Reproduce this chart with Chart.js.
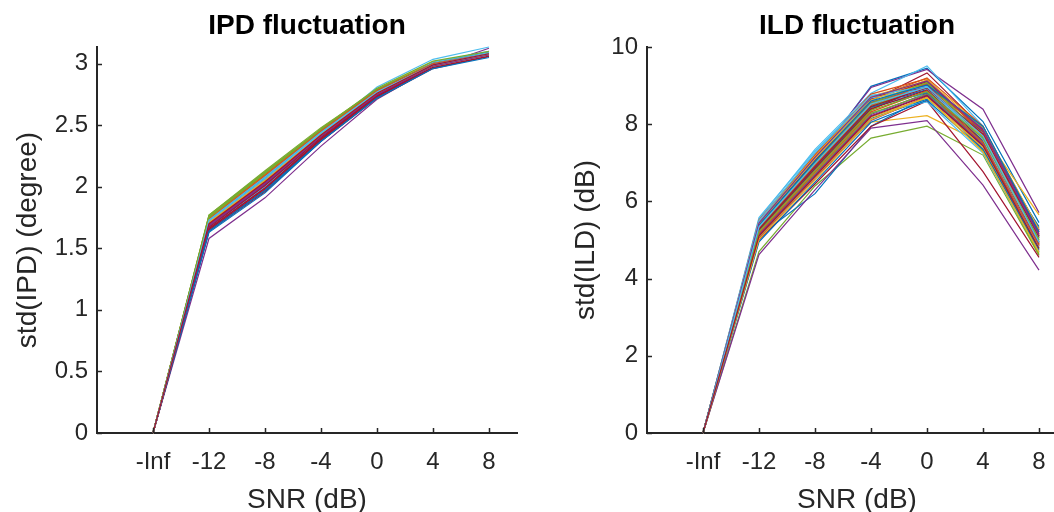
<!DOCTYPE html>
<html>
<head>
<meta charset="utf-8">
<script src="https://cdn.jsdelivr.net/npm/chart.js@4/dist/chart.umd.min.js"></script>
<style>
  html, body { margin: 0; padding: 0; background: #fff; overflow: hidden; width: 1054px; height: 512px; }
  #ipd { position: absolute; left: 0; top: 0; }
  #ild { position: absolute; left: 540px; top: 0; }
</style>
</head>
<body>
<canvas id="ipd" width="527" height="512"></canvas>
<canvas id="ild" width="540" height="512"></canvas>
<script>
// SNR conditions; the noise-free condition (-Inf) sits one step left of -12 dB
const snrPositions = [-16, -12, -8, -4, 0, 4, 8];
const snrLabels = ['-Inf', '-12', '-8', '-4', '0', '4', '8'];
const ipdTicks = [0, 0.5, 1, 1.5, 2, 2.5, 3];
const ildTicks = [0, 2, 4, 6, 8, 10];
const lineColors = ['#0072BD', '#D95319', '#EDB120', '#7E2F8E', '#77AC30', '#4DBEEE', '#A2142F'];

// std(IPD) in degrees, one row per source position, columns follow snrPositions
const ipdStd = [
  [0, 1.70, 2.04, 2.42, 2.76, 2.99, 3.07],
  [0, 1.74, 2.10, 2.46, 2.79, 3.01, 3.08],
  [0, 1.72, 2.07, 2.44, 2.77, 3.00, 3.08],
  [0, 1.58, 1.91, 2.33, 2.71, 2.97, 3.125],
  [0, 1.77, 2.13, 2.48, 2.79, 3.00, 3.08],
  [0, 1.69, 2.03, 2.43, 2.81, 3.035, 3.135],
  [0, 1.66, 1.99, 2.39, 2.74, 2.97, 3.06],
  [0, 1.65, 1.97, 2.38, 2.73, 2.98, 3.07],
  [0, 1.71, 2.06, 2.44, 2.77, 2.99, 3.08],
  [0, 1.75, 2.10, 2.45, 2.78, 3.00, 3.09],
  [0, 1.68, 2.02, 2.41, 2.75, 2.98, 3.07],
  [0, 1.73, 2.08, 2.45, 2.78, 3.00, 3.09],
  [0, 1.67, 2.01, 2.40, 2.75, 2.99, 3.08],
  [0, 1.64, 1.96, 2.37, 2.72, 2.96, 3.06],
  [0, 1.63, 1.95, 2.37, 2.73, 2.97, 3.07],
  [0, 1.72, 2.06, 2.43, 2.76, 2.99, 3.08],
  [0, 1.76, 2.11, 2.46, 2.78, 3.00, 3.09],
  [0, 1.70, 2.05, 2.43, 2.77, 2.99, 3.08],
  [0, 1.74, 2.09, 2.46, 2.79, 3.01, 3.09],
  [0, 1.69, 2.03, 2.41, 2.76, 2.99, 3.08],
  [0, 1.66, 2.00, 2.39, 2.74, 2.97, 3.06],
  [0, 1.71, 2.05, 2.42, 2.76, 2.98, 3.07],
  [0, 1.73, 2.07, 2.44, 2.77, 2.99, 3.08],
  [0, 1.75, 2.11, 2.47, 2.79, 3.01, 3.09],
  [0, 1.68, 2.01, 2.40, 2.75, 2.98, 3.07],
  [0, 1.76, 2.12, 2.47, 2.79, 3.00, 3.09],
  [0, 1.67, 2.00, 2.40, 2.76, 3.01, 3.10],
  [0, 1.65, 1.98, 2.38, 2.73, 2.97, 3.06],
  [0, 1.72, 2.07, 2.44, 2.78, 3.00, 3.08],
  [0, 1.70, 2.04, 2.42, 2.76, 2.99, 3.07],
  [0, 1.74, 2.09, 2.45, 2.78, 2.99, 3.08],
  [0, 1.69, 2.03, 2.42, 2.76, 2.98, 3.07],
  [0, 1.77, 2.12, 2.47, 2.79, 3.00, 3.08],
  [0, 1.71, 2.06, 2.43, 2.77, 3.00, 3.09],
  [0, 1.66, 1.99, 2.39, 2.74, 2.97, 3.06],
  [0, 1.73, 2.08, 2.45, 2.78, 3.00, 3.09],
  [0, 1.75, 2.10, 2.46, 2.78, 2.99, 3.08],
  [0, 1.70, 2.05, 2.43, 2.76, 2.98, 3.07],
  [0, 1.68, 2.02, 2.41, 2.75, 2.98, 3.07],
  [0, 1.76, 2.11, 2.46, 2.78, 3.00, 3.08],
  [0, 1.72, 2.07, 2.43, 2.77, 3.00, 3.09],
  [0, 1.67, 2.01, 2.40, 2.75, 2.98, 3.07],
  [0, 1.64, 1.97, 2.37, 2.72, 2.96, 3.05],
  [0, 1.74, 2.09, 2.45, 2.78, 3.00, 3.08],
  [0, 1.71, 2.05, 2.42, 2.76, 2.98, 3.07],
  [0, 1.69, 2.03, 2.41, 2.75, 2.98, 3.07],
  [0, 1.75, 2.11, 2.47, 2.80, 3.02, 3.10],
  [0, 1.73, 2.08, 2.44, 2.77, 2.99, 3.08],
  [0, 1.70, 2.04, 2.42, 2.76, 2.99, 3.08]
];

// std(ILD) in dB, same layout
const ildStd = [
  [0, 5.45, 7.05, 8.98, 9.45, 8.07, 5.45],
  [0, 5.30, 6.95, 8.55, 9.10, 7.85, 5.20],
  [0, 5.25, 6.85, 8.05, 8.22, 7.50, 5.05],
  [0, 5.40, 7.10, 8.95, 9.42, 8.39, 5.71],
  [0, 4.70, 6.40, 7.64, 7.95, 7.20, 4.60],
  [0, 5.55, 7.35, 8.80, 9.51, 7.95, 5.10],
  [0, 5.35, 7.00, 8.60, 9.33, 7.90, 5.25],
  [0, 5.10, 6.20, 7.95, 8.70, 7.70, 4.95],
  [0, 5.50, 7.20, 8.70, 9.05, 7.60, 4.90],
  [0, 5.15, 6.75, 8.35, 9.15, 7.75, 5.65],
  [0, 4.62, 6.30, 7.90, 8.09, 6.42, 4.22],
  [0, 5.25, 6.90, 8.50, 9.00, 7.65, 4.80],
  [0, 5.58, 7.30, 8.75, 8.85, 7.40, 4.85],
  [0, 5.00, 6.45, 7.94, 8.60, 6.77, 4.55],
  [0, 5.32, 6.98, 8.45, 8.90, 7.80, 5.30],
  [0, 5.45, 7.15, 8.65, 9.20, 7.95, 5.15],
  [0, 5.38, 7.02, 8.58, 9.08, 7.55, 4.75],
  [0, 5.18, 6.70, 8.25, 8.80, 7.35, 4.70],
  [0, 5.28, 6.88, 8.48, 8.95, 7.30, 4.62],
  [0, 5.42, 7.08, 8.62, 8.75, 7.50, 5.00],
  [0, 5.22, 6.82, 8.38, 9.02, 7.85, 5.20],
  [0, 5.12, 6.65, 8.15, 8.65, 7.60, 5.10],
  [0, 5.36, 7.00, 8.52, 8.98, 7.70, 4.95],
  [0, 5.48, 7.18, 8.72, 9.12, 7.65, 4.90],
  [0, 5.05, 6.60, 8.10, 8.72, 7.45, 4.85],
  [0, 5.30, 6.92, 8.42, 9.05, 7.90, 5.05],
  [0, 5.20, 6.78, 8.30, 8.58, 7.25, 4.70],
  [0, 5.40, 7.06, 8.66, 9.10, 7.80, 5.15],
  [0, 5.26, 6.86, 8.44, 8.82, 7.55, 5.35],
  [0, 5.52, 7.22, 8.78, 9.18, 7.72, 5.00],
  [0, 5.08, 6.62, 8.18, 8.68, 7.40, 4.80],
  [0, 5.34, 6.96, 8.56, 9.00, 7.88, 5.25],
  [0, 5.16, 6.72, 8.28, 8.78, 7.50, 4.65],
  [0, 5.46, 7.12, 8.68, 8.92, 7.62, 5.05],
  [0, 5.24, 6.84, 8.40, 8.88, 7.58, 4.88],
  [0, 4.95, 6.50, 8.05, 8.62, 7.35, 4.75],
  [0, 5.32, 6.94, 8.50, 9.05, 7.82, 5.10],
  [0, 5.42, 7.10, 8.62, 9.15, 7.92, 5.28],
  [0, 5.14, 6.68, 8.22, 8.76, 7.48, 4.92],
  [0, 5.36, 7.00, 8.54, 9.08, 7.68, 4.98],
  [0, 5.50, 7.26, 8.74, 8.98, 7.60, 4.82],
  [0, 5.28, 6.90, 8.46, 8.94, 7.74, 5.08],
  [0, 5.38, 7.04, 8.60, 9.02, 7.94, 5.20],
  [0, 5.18, 6.76, 8.32, 8.86, 7.52, 4.86],
  [0, 5.02, 6.55, 8.12, 8.70, 7.28, 4.68],
  [0, 5.44, 7.14, 8.70, 9.12, 7.84, 5.12],
  [0, 5.22, 6.80, 8.36, 8.84, 7.64, 5.02],
  [0, 5.34, 6.98, 8.52, 8.96, 7.70, 4.94],
  [0, 5.10, 6.64, 8.20, 8.74, 7.44, 4.78]
];

const fontFamily = '"Liberation Sans", Arial, Helvetica, sans-serif';
const axisColor = '#262626';

// MATLAB-style tick marks pointing into the axes
const inwardTicks = {
  id: 'inwardTicks',
  afterDraw(chart) {
    const { ctx, chartArea, scales } = chart;
    ctx.save();
    ctx.strokeStyle = axisColor;
    ctx.lineWidth = 1.5;
    ctx.beginPath();
    scales.x.ticks.forEach(t => {
      const px = Math.round(scales.x.getPixelForValue(t.value)) + 0.5;
      ctx.moveTo(px, chartArea.bottom);
      ctx.lineTo(px, chartArea.bottom - 5);
    });
    scales.y.ticks.forEach(t => {
      const py = Math.round(scales.y.getPixelForValue(t.value)) + 0.5;
      ctx.moveTo(chartArea.left, py);
      ctx.lineTo(chartArea.left + 5, py);
    });
    ctx.stroke();
    ctx.restore();
  }
};

function makeDatasets(rows) {
  return rows.map((row, i) => ({
    data: row.map((y, j) => ({ x: snrPositions[j], y })),
    borderColor: lineColors[i % lineColors.length],
    backgroundColor: lineColors[i % lineColors.length],
    borderWidth: 1.2,
    pointRadius: 0,
    fill: false,
    tension: 0,
    clip: false,
    order: rows.length - i
  }));
}

function makeChart(id, rows, yTicks, yMax, titleText, yTitle, yAxisWidth, yTitlePad, rightPad) {
  return new Chart(document.getElementById(id), {
    type: 'line',
    data: { datasets: makeDatasets(rows) },
    plugins: [inwardTicks],
    options: {
      responsive: false,
      animation: false,
      devicePixelRatio: 1,
      layout: { padding: { left: 0, right: rightPad, top: 0, bottom: 0 } },
      plugins: {
        legend: { display: false },
        tooltip: { enabled: false },
        title: {
          display: true,
          text: titleText,
          fullSize: false,
          color: '#000',
          font: { family: fontFamily, size: 28, weight: 'bold', lineHeight: 1.2 },
          padding: { top: 9.5, bottom: 3.9 }
        }
      },
      scales: {
        x: {
          type: 'linear',
          min: -20,
          max: 10,
          grid: { display: false, drawTicks: false },
          border: { display: true, color: axisColor, width: 2 },
          afterBuildTicks: (scale) => { scale.ticks = snrPositions.map(v => ({ value: v })); },
          afterFit: (scale) => { scale.height = 79; },
          ticks: {
            autoSkip: false,
            maxRotation: 0,
            padding: 15.4,
            color: axisColor,
            font: { family: fontFamily, size: 24, lineHeight: 1.2 },
            callback: (v) => snrLabels[snrPositions.indexOf(v)]
          },
          title: {
            display: true,
            text: 'SNR (dB)',
            color: axisColor,
            font: { family: fontFamily, size: 28, lineHeight: 0.8 },
            padding: { top: 0, bottom: 1 }
          }
        },
        y: {
          type: 'linear',
          min: 0,
          max: yMax,
          grid: { display: false, drawTicks: false },
          border: { display: true, color: axisColor, width: 2 },
          afterBuildTicks: (scale) => { scale.ticks = yTicks.map(v => ({ value: v })); },
          afterFit: (scale) => { scale.width = yAxisWidth; },
          ticks: {
            padding: 9,
            color: axisColor,
            font: { family: fontFamily, size: 24, lineHeight: 1.2 },
            callback: (v) => String(v)
          },
          title: {
            display: true,
            text: yTitle,
            color: axisColor,
            font: { family: fontFamily, size: 28, lineHeight: 0.8 },
            padding: { top: yTitlePad, bottom: 0 }
          }
        }
      }
    }
  });
}

// IPD axis is tight to the largest value; ILD axis runs to 10 dB
const ipdMax = Math.max(...ipdStd.flat());
makeChart('ipd', ipdStd, ipdTicks, ipdMax, 'IPD fluctuation', 'std(IPD) (degree)', 97, 16.9, 10);
makeChart('ild', ildStd, ildTicks, 10, 'ILD fluctuation', 'std(ILD) (dB)', 107, 35.4, 13);
</script>
</body>
</html>
